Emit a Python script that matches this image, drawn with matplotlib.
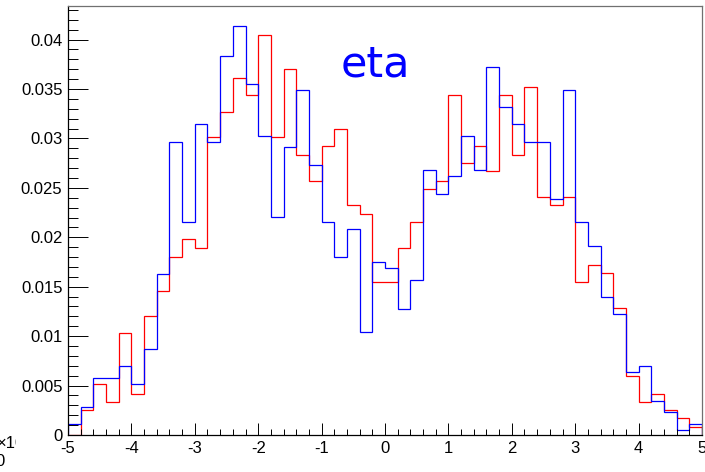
import numpy as np
import matplotlib
matplotlib.use("Agg")
import matplotlib.pyplot as plt
from matplotlib.ticker import MultipleLocator
from matplotlib.transforms import Bbox

# eta distributions, 50 bins from -5 to 5
edges = np.linspace(-5, 5, 51)
eta_blue = [0.00108, 0.00283, 0.00573, 0.00573, 0.00694, 0.00512, 0.00869, 0.01624, 0.02965, 0.02150,
            0.03144, 0.02965, 0.03838, 0.04138, 0.03552, 0.03026, 0.02210, 0.02911, 0.03491, 0.02736,
            0.02150, 0.01803, 0.02089, 0.01038, 0.01746, 0.01688, 0.01277, 0.01564, 0.02676, 0.02443,
            0.02618, 0.03026, 0.02676, 0.03727, 0.03323, 0.03144, 0.02965, 0.02965, 0.02389, 0.03491,
            0.02150, 0.01914, 0.01398, 0.01220, 0.00634, 0.00694, 0.00344, 0.00229, 0.00047, 0.00108]
eta_red = [0.00000, 0.00249, 0.00512, 0.00334, 0.01031, 0.00418, 0.01203, 0.01452, 0.01803, 0.01978,
           0.01887, 0.03013, 0.03272, 0.03609, 0.03440, 0.04044, 0.03013, 0.03703, 0.02837, 0.02574,
           0.02925, 0.03093, 0.02322, 0.02234, 0.01547, 0.01547, 0.01887, 0.02153, 0.02490, 0.02574,
           0.03440, 0.02756, 0.02925, 0.02669, 0.03440, 0.02837, 0.03525, 0.02406, 0.02322, 0.02406,
           0.01547, 0.01719, 0.01634, 0.01287, 0.00600, 0.00334, 0.00418, 0.00249, 0.00168, 0.00081]

W, H = 705, 472
fig = plt.figure(figsize=(W / 100, H / 100), dpi=100)
ax = fig.add_axes([68 / W, (H - 435) / H, 634 / W, (435 - 6) / H])

ax.stairs(eta_red, edges, color="#ff0000", lw=0.9)
ax.stairs(eta_blue, edges, color="#0000ff", lw=0.9)

ax.set_xlim(-5, 5)
ax.set_ylim(0, 0.0434)

ax.xaxis.set_major_locator(MultipleLocator(1))
ax.xaxis.set_minor_locator(MultipleLocator(0.2))
ax.yaxis.set_major_locator(MultipleLocator(0.005))
ax.yaxis.set_minor_locator(MultipleLocator(0.001))
ax.yaxis.set_major_formatter(lambda v, p: "0" if abs(v) < 1e-9 else f"{v:g}")
ax.xaxis.set_major_formatter(lambda v, p: f"{v:g}")

tick_font = "Liberation Sans"
ax.tick_params(axis="y", which="major", direction="in", length=14.4, width=0.7, pad=4,
               labelsize=12, right=False)
ax.tick_params(axis="y", which="minor", direction="in", length=7.2, width=0.7, right=False)
ax.tick_params(axis="x", which="major", direction="in", length=8.6, width=0.7, pad=4,
               labelsize=12, top=False)
ax.tick_params(axis="x", which="minor", direction="in", length=4.3, width=0.7, top=False)
for lab in ax.get_xticklabels() + ax.get_yticklabels():
    lab.set_fontfamily(tick_font)

for side in ("left", "bottom"):
    ax.spines[side].set_color("black")
    ax.spines[side].set_linewidth(0.9)
for side in ("top", "right"):
    ax.spines[side].set_color("#707070")
    ax.spines[side].set_linewidth(0.9)

fig.text(341 / W, 1 - 76.7 / H, "eta", color="#0000ff", fontsize=31,
         family="DejaVu Sans", ha="left", va="baseline")

# exponent label of the y axis, partly off the canvas
exp_lab = fig.text(-3 / W, 1 - 443 / H, "×10", fontsize=12, family=tick_font,
                   ha="left", va="center")
exp_lab.set_clip_on(True)
exp_lab.set_clip_box(Bbox.from_extents(0, 0, 16, H))
fig.text(0, 1 - 462 / H, "0", fontsize=12, family=tick_font, ha="center", va="center")

fig.savefig("out.png", dpi=100)
